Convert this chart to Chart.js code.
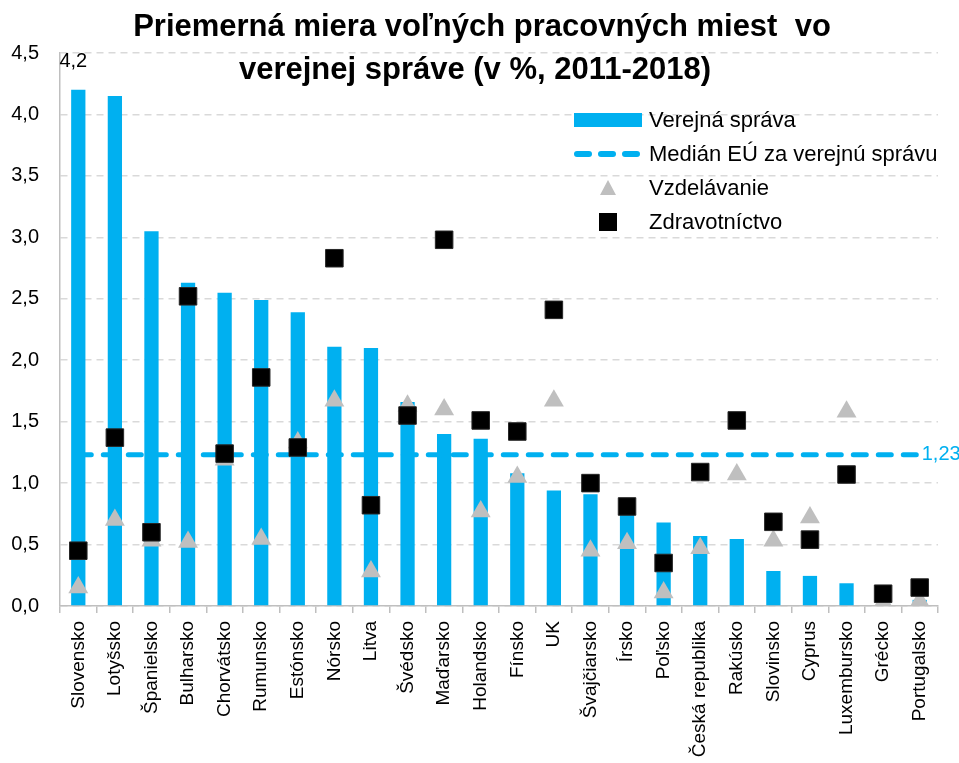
<!DOCTYPE html>
<html lang="sk">
<head>
    <meta charset="UTF-8">
    <title>Voľné pracovné miesta vo verejnej správe</title>
    <style>
      html, body { margin: 0; padding: 0; background: #fff; }
    </style>
</head>
<body>
    <canvas id="graf" width="959" height="763"></canvas>
    <script src="https://cdn.jsdelivr.net/npm/chart.js"></script>
    <script>
      // kategórie a hodnoty (v %)
      const kategorie = ['Slovensko', 'Lotyšsko', 'Španielsko', 'Bulharsko', 'Chorvátsko', 'Rumunsko',
        'Estónsko', 'Nórsko', 'Litva', 'Švédsko', 'Maďarsko', 'Holandsko', 'Fínsko', 'UK',
        'Švajčiarsko', 'Írsko', 'Poľsko', 'Česká republika', 'Rakúsko', 'Slovinsko', 'Cyprus',
        'Luxembursko', 'Grécko', 'Portugalsko'];

      const verejnaSprava = [4.2, 4.15, 3.05, 2.63, 2.55, 2.49, 2.39, 2.11, 2.10, 1.66, 1.40, 1.36,
        1.08, 0.94, 0.91, 0.75, 0.68, 0.57, 0.545, 0.285, 0.245, 0.185, 0.02, 0.05];

      const vzdelavanie = [0.15, 0.70, 0.53, 0.52, 1.19, 0.545, 1.33, 1.67, 0.28, 1.63, 1.60, 0.77,
        1.05, 1.67, 0.45, 0.51, 0.11, 0.47, 1.07, 0.53, 0.72, 1.58, 0.03, 0.04];

      const zdravotnictvo = [0.45, 1.37, 0.60, 2.52, 1.24, 1.86, 1.29, 2.83, 0.82, 1.55, 2.98, 1.51,
        1.42, 2.41, 1.00, 0.81, 0.35, 1.09, 1.51, 0.685, 0.54, 1.07, 0.10, 0.15];

      const medianEU = 1.23;

      const yTicky = [0, 0.5, 1, 1.5, 2, 2.5, 3, 3.5, 4, 4.5];

      const titulok = ['Priemerná miera voľných pracovných miest  vo', 'verejnej správe (v %, 2011-2018)'];
      const legenda = ['Verejná správa', 'Medián EÚ za verejnú správu', 'Vzdelávanie', 'Zdravotníctvo'];

      const MODRA = '#00B0F0';
      const SEDA = '#BFBFBF';
      const FONT = "'Liberation Sans', Arial, sans-serif";

      const ciarka = v => v.toFixed(1).replace('.', ',');

      // titulok, legenda a popisky
      const doplnky = {
        id: 'doplnky',
        afterDraw(chart) {
          const ctx = chart.ctx;
          const x = chart.scales.x;
          const y = chart.scales.y;
          ctx.save();

          ctx.fillStyle = '#000';
          ctx.textAlign = 'center';
          ctx.textBaseline = 'alphabetic';
          ctx.font = 'bold 31px ' + FONT;
          ctx.fillText(titulok[0], 482, 36);
          ctx.fillText(titulok[1], 475, 79);

          // 4,2 nad prvým stĺpcom
          ctx.font = '20px ' + FONT;
          ctx.textBaseline = 'middle';
          ctx.fillText(ciarka(verejnaSprava[0]), x.getPixelForValue(0) - 5, y.getPixelForValue(verejnaSprava[0]) - 28);

          // 1,23 na konci mediánu
          ctx.fillStyle = MODRA;
          ctx.textAlign = 'left';
          ctx.fillText(medianEU.toFixed(2).replace('.', ','), x.getPixelForValue(kategorie.length - 1) + 2, y.getPixelForValue(medianEU));

          // legenda
          const lx = 608, tx = 649;
          const riadky = [120, 154, 188, 222];
          ctx.fillStyle = MODRA;
          ctx.fillRect(574, riadky[0] - 7, 68, 14);

          ctx.strokeStyle = MODRA;
          ctx.lineWidth = 6;
          ctx.lineCap = 'round';
          ctx.setLineDash([12, 12]);
          ctx.beginPath();
          ctx.moveTo(577, riadky[1]);
          ctx.lineTo(640, riadky[1]);
          ctx.stroke();
          ctx.setLineDash([]);

          ctx.fillStyle = SEDA;
          ctx.beginPath();
          ctx.moveTo(lx, riadky[2] - 8);
          ctx.lineTo(lx + 8, riadky[2] + 7);
          ctx.lineTo(lx - 8, riadky[2] + 7);
          ctx.closePath();
          ctx.fill();

          ctx.fillStyle = '#000';
          ctx.fillRect(lx - 9, riadky[3] - 9, 18, 18);

          ctx.font = '22px ' + FONT;
          ctx.textAlign = 'left';
          legenda.forEach((t, i) => ctx.fillText(t, tx, riadky[i] + 1));

          ctx.restore();
        }
      };

      const ctx = document.getElementById('graf');

      new Chart(ctx, {
        type: 'bar',
        data: {
          labels: kategorie,
          datasets: [
            {
              label: legenda[3],
              type: 'line',
              data: zdravotnictvo,
              showLine: false,
              pointStyle: 'rect',
              pointRadius: 12.4,
              pointBackgroundColor: '#000',
              pointBorderColor: '#262626',
              pointBorderWidth: 1,
              order: 1
            },
            {
              label: legenda[2],
              type: 'line',
              data: vzdelavanie,
              showLine: false,
              pointStyle: 'triangle',
              pointRadius: 11.5,
              pointBackgroundColor: SEDA,
              pointBorderColor: SEDA,
              pointBorderWidth: 0,
              order: 2
            },
            {
              label: legenda[1],
              type: 'line',
              data: [{x: kategorie[0], y: medianEU}, {x: kategorie[kategorie.length - 1], y: medianEU}],
              borderColor: MODRA,
              borderWidth: 5,
              borderDash: [13, 12],
              borderCapStyle: 'round',
              pointRadius: 0,
              fill: false,
              order: 3
            },
            {
              label: legenda[0],
              data: verejnaSprava,
              backgroundColor: MODRA,
              categoryPercentage: 1,
              barPercentage: 0.39,
              order: 4
            }
          ]
        },
        options: {
          responsive: false,
          animation: false,
          devicePixelRatio: 1,
          layout: { padding: { left: 0, right: 21, top: 53, bottom: 0 } },
          plugins: {
            legend: { display: false },
            title: { display: false },
            tooltip: { enabled: false }
          },
          scales: {
            x: {
              afterFit: s => { s.height = 157; },
              grid: {
                offset: true,
                drawOnChartArea: false,
                tickLength: 7,
                color: SEDA,
                lineWidth: 1.5
              },
              border: { color: SEDA, width: 1.5 },
              ticks: {
                autoSkip: false,
                maxRotation: 90,
                minRotation: 90,
                padding: 8,
                color: '#000',
                font: { family: FONT, size: 19 }
              }
            },
            y: {
              min: 0,
              max: 4.5,
              afterFit: s => { s.width = 60; },
              afterBuildTicks: s => { s.ticks = yTicky.map(v => ({ value: v })); },
              grid: {
                drawTicks: false,
                color: '#D9D9D9',
                lineWidth: 1.5
              },
              border: { color: SEDA, width: 1.5, dash: [7, 5] },
              ticks: {
                padding: 21,
                color: '#000',
                font: { family: FONT, size: 20 },
                callback: v => ciarka(v)
              }
            }
          }
        },
        plugins: [doplnky]
      });
    </script>
</body>
</html>
